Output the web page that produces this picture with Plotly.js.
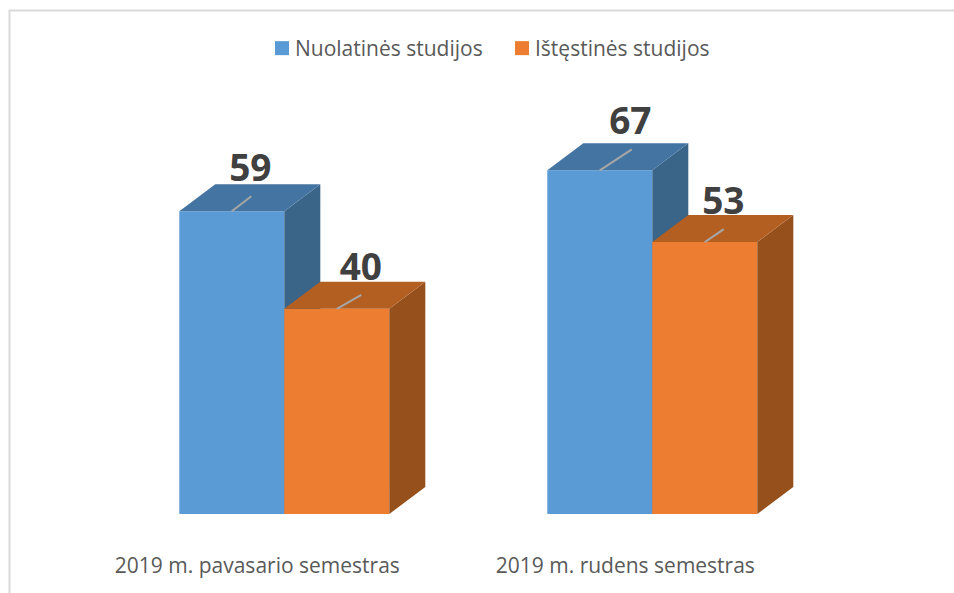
<!DOCTYPE html>
<html><head><meta charset="utf-8">
<script src="https://cdn.plot.ly/plotly-3.0.1.min.js"></script>
<style>html,body{margin:0;padding:0;background:#fff}#c{width:954px;height:593px}</style>
</head><body><div id="c"></div>
<script>
const categories = ["2019 m. pavasario semestras", "2019 m. rudens semestras"];
const seriesNames = ["Nuolatinės studijos", "Ištęstinės studijos"];
const fullTime = [59, 67];
const partTime = [40, 53];

// Geometry of the fake 3-D look, in pixels, turned into axis units below
const W = 954, H = 593, baseY = 514, originX = 284.3, groupPx = 368, unitPx = 5.13;
const barPx = 105, depthXPx = 36, depthYPx = 27;
const gx = p => p / groupPx, gy = p => p / unitPx;
const barW = gx(barPx), dx = gx(depthXPx), dy = gy(depthYPx);
const xr = [gx(-originX), gx(W - originX)], yr = [0, gy(baseY)];
const groups = categories.map((_, i) => i);

// Label / leader placement per bar: [label x shift, label y lift, leader dx, leader dy] px
const fullPlace = [[18.5, 40, 19.5, 15], [30.5, 45.5, 32, 21]];
const partPlace = [[24, 38, 24.5, 14], [18.5, 37.5, 19, 13]];

function depthFaces(vals, left, sideColor, topColor, ax) {
  const out = [];
  vals.forEach((v, i) => {
    const x0 = i + left, x1 = x0 + barW;
    out.push({type:'scatter', mode:'lines', x:[x1, x1+dx, x1+dx, x1, x1], y:[0, dy, v+dy, v, 0],
      fill:'toself', fillcolor:sideColor, line:{width:0}, hoverinfo:'skip', showlegend:false, xaxis:ax[0], yaxis:ax[1]});
    out.push({type:'scatter', mode:'lines', x:[x0, x1, x1+dx, x0+dx, x0], y:[v, v, v+dy, v+dy, v],
      fill:'toself', fillcolor:topColor, line:{width:0}, hoverinfo:'skip', showlegend:false, xaxis:ax[0], yaxis:ax[1]});
  });
  return out;
}
function labels(vals, left, place) {
  const out = [];
  vals.forEach((v, i) => {
    const cx = i + left + barW / 2, p = place[i];
    out.push({type:'scatter', mode:'lines', x:[cx, cx + gx(p[2])], y:[v, v + gy(p[3])],
      line:{color:'#A6A6A6', width:2}, hoverinfo:'skip', showlegend:false, xaxis:'x2', yaxis:'y2'});
    out.push({type:'scatter', mode:'text', x:[cx + gx(p[0])], y:[v + gy(p[1])], text:[String(v)],
      textposition:'middle center', textfont:{family:'"Open Sans",sans-serif', size:37, color:'#404040', weight:700},
      cliponaxis:false, hoverinfo:'skip', showlegend:false, xaxis:'x2', yaxis:'y2'});
  });
  return out;
}

const data = [
  {type:'bar', name:seriesNames[0], x:groups.map(g => g - barW/2), y:fullTime, width:barW,
   marker:{color:'#5B9BD5', line:{width:0}}, hoverinfo:'skip', xaxis:'x', yaxis:'y'},
  ...depthFaces(fullTime, -barW, '#3A6589', '#4475A2', ['x','y']),
  {type:'bar', name:seriesNames[1], x:groups.map(g => g + barW/2), y:partTime, width:barW,
   marker:{color:'#ED7D31', line:{width:0}}, hoverinfo:'skip', xaxis:'x2', yaxis:'y2'},
  ...depthFaces(partTime, 0, '#96501C', '#B45F22', ['x2','y2']),
  ...labels(fullTime, -barW, fullPlace),
  ...labels(partTime, 0, partPlace)
];

const font = {family:'"Open Sans",sans-serif', color:'#595959', size:21};
const layout = {
  width:W, height:H, paper_bgcolor:'#fff', plot_bgcolor:'rgba(0,0,0,0)',
  margin:{l:0, r:0, t:0, b:H - baseY, autoexpand:false},
  font, barmode:'overlay', hovermode:false,
  xaxis:{range:xr, tickmode:'array', tickvals:groups.map(g => g - gx(27)), ticktext:categories,
    ticks:'outside', ticklen:33, tickcolor:'rgba(0,0,0,0)', showgrid:false, zeroline:false, showline:false,
    tickfont:font, automargin:false, fixedrange:true},
  yaxis:{range:yr, visible:false, fixedrange:true},
  xaxis2:{range:xr, overlaying:'x', visible:false, fixedrange:true},
  yaxis2:{range:yr, overlaying:'y', visible:false, fixedrange:true},
  showlegend:true,
  legend:{orientation:'h', x:262/W, xanchor:'left', y:1.0 - 28/baseY, yanchor:'top', font, bgcolor:'rgba(0,0,0,0)',
    entrywidth:195, entrywidthmode:'pixels', itemclick:false, itemdoubleclick:false, traceorder:'normal'},
  shapes:[
    {type:'line', xref:'paper', yref:'paper', x0:9.5/W, x1:9.5/W, y0:(baseY-10)/baseY, y1:(baseY-H)/baseY, line:{color:'#D9D9D9', width:2}},
    {type:'line', xref:'paper', yref:'paper', x0:9/W, x1:1, y0:(baseY-10.5)/baseY, y1:(baseY-10.5)/baseY, line:{color:'#D9D9D9', width:2}}
  ]
};
Plotly.newPlot('c', data, layout, {displayModeBar:false, staticPlot:true}).then(() => {
  // Legend swatch is a little larger and closer to its text in the original
  document.querySelectorAll('.legendtext').forEach(t => t.setAttribute('x', Number(t.getAttribute('x')) - 7));
  document.querySelectorAll('.legendpoints .legendundefined, .legendpoints path').forEach(p => {
    if (p.getAttribute('d')) p.setAttribute('d', 'M7,7H-7V-7H7Z');
  });
});
</script></body></html>
